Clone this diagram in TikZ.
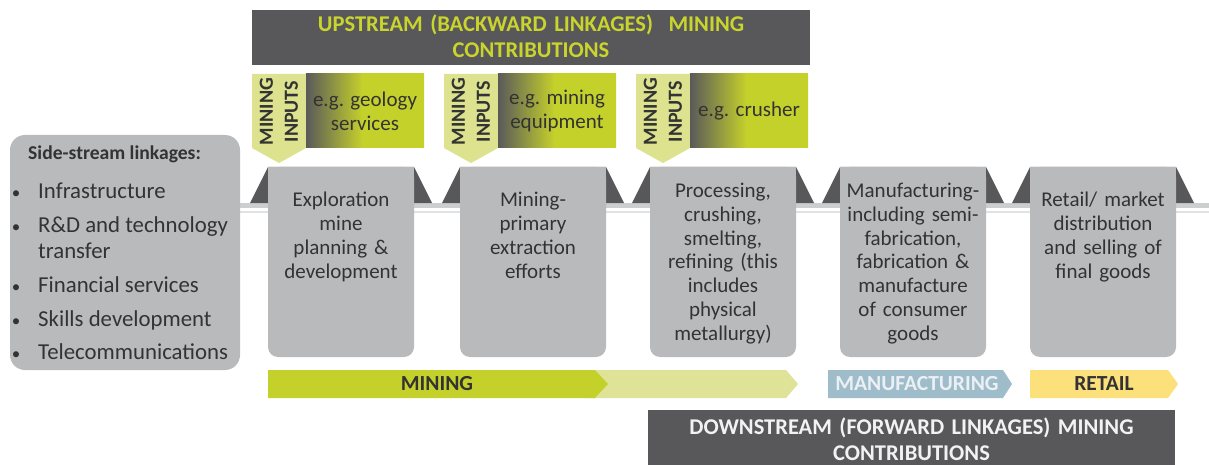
\documentclass[tikz,border=0pt]{standalone}
\usepackage{fontspec}
\setmainfont{Carlito}

\definecolor{barDark}{HTML}{58585A}
\definecolor{limeText}{HTML}{C9D42C}
\definecolor{lime}{HTML}{C5D12B}
\definecolor{limePale}{HTML}{DEE398}
\definecolor{tabFill}{HTML}{DCE28E}
\definecolor{inputDark}{HTML}{5A5A5A}
\definecolor{boxFill}{HTML}{B9BABC}
\definecolor{trapFill}{HTML}{58585A}
\definecolor{trackGray}{HTML}{CDCED0}
\definecolor{textDark}{HTML}{333333}
\definecolor{manuBlue}{HTML}{9FBCCB}
\definecolor{manuText}{HTML}{EAF0F3}
\definecolor{retailYellow}{HTML}{FBE07C}
\definecolor{lightText}{HTML}{F2F2F2}

% dark-to-lime fill of the input boxes
\pgfdeclarehorizontalshading{inputshade}{100bp}{color(0bp)=(inputDark); color(25bp)=(inputDark); color(49bp)=(lime); color(100bp)=(lime)}

\tikzset{
  darkbar/.style={rectangle, fill=barDark, inner sep=0pt},
  bartext/.style={anchor=base, text width=520pt, align=center, inner sep=0pt, font=\bfseries\fontsize{22.5}{26}\selectfont},
  stagebox/.style={rectangle, rounded corners=10pt, fill=boxFill, minimum width=146pt, minimum height=190pt, inner sep=0pt},
  stagetext/.style={anchor=base, text width=146pt, align=center, inner sep=0pt, text=textDark, font=\fontsize{21}{23.8}\selectfont},
  sidebox/.style={rectangle, rounded corners=15pt, fill=boxFill, minimum width=230pt, minimum height=235pt, inner sep=0pt},
  sidehead/.style={anchor=base west, inner sep=0pt, text=textDark, font=\bfseries\fontsize{19.6}{22}\selectfont},
  sideitem/.style={anchor=base west, inner sep=0pt, text=textDark, font=\fontsize{22.8}{27}\selectfont},
  bulletmark/.style={anchor=base, inner sep=0pt, text=textDark, font=\fontsize{17}{20}\selectfont},
  tabtext/.style={rotate=90, align=center, inner sep=0pt, text=textDark, font=\bfseries\fontsize{20}{25}\selectfont},
  inputbox/.style={rectangle, shading=inputshade, minimum width=118pt, minimum height=74pt, inner sep=0pt, align=center, text=textDark, font=\fontsize{21}{24}\selectfont},
  flowlabel/.style={inner sep=0pt, font=\bfseries\fontsize{21.5}{24}\selectfont},
}

% one "mining inputs" group: tab with pointer plus shaded example box
\newcommand\inputgroup[3]{%
  \fill[tabFill] (#2,74) -- (#2+54,74) -- (#2+54,148) -- (#2+27,163) -- (#2,148) -- cycle;
  \node[tabtext] (#1-tab) at (#2+27,111.5) {MINING\\INPUTS};
  \node[inputbox] (#1-box) at (#2+113,111) {#3};
}

% one value-chain stage: dark shoulders, box with square top, text
\newcommand\stage[4]{%
  \fill[trapFill] (#2-18,203) -- (#2,167) -- (#2+146,167) -- (#2+164,203) -- cycle;
  \node[stagebox] (#1) at (#2+73,262) {};
  \fill[boxFill] (#1.north west) rectangle (#1.east);
  \node[stagetext] (#1-text) at (#2+73,#3) {#4};
}

\begin{document}
\begin{tikzpicture}[x=1pt,y=-1pt]
\useasboundingbox[fill=white] (0,0) rectangle (1209,465);

% upstream header
\node[darkbar, minimum width=558pt, minimum height=55pt] (upstream) at (531,37.5) {};
\node[bartext, text=limeText] (upstream-text) at (531,32) {UPSTREAM (BACKWARD LINKAGES)\hspace{0.35em} MINING\\CONTRIBUTIONS};

% mining inputs
\inputgroup{inA}{252}{e.g. geology\\services}
\inputgroup{inB}{444}{e.g. mining\\equipment}
\inputgroup{inC}{636}{e.g. crusher}

% track
\fill[trackGray] (240,203) rectangle (1209,208);
\fill[trackGray!60] (240,211) rectangle (1209,213);

% stages
\stage{explore}{268}{207}{Exploration\\mine\\planning \&\\development}
\stage{extract}{460}{207}{Mining-\\primary\\extraction\\efforts}
\stage{process}{650}{197.5}{Processing,\\crushing,\\smelting,\\refining (this\\includes\\physical\\metallurgy)}
\stage{manufacture}{840}{197.5}{Manufacturing-\\including semi-\\fabrication,\\fabrication \&\\manufacture\\of consumer\\goods}
\stage{retail}{1030}{207}{Retail/ market\\distribution\\and selling of\\final goods}

% side-stream box
\node[sidebox] (side) at (125,252.5) {};
\node[sidehead] (side-head) at (28,160) {Side-stream linkages:};
\node[sideitem] (s1) at (38,198) {Infrastructure};
\node[sideitem] (s2) at (38,232) {R\&D and technology};
\node[sideitem] (s2b) at (38,258) {transfer};
\node[sideitem] (s3) at (38,292) {Financial services};
\node[sideitem] (s4) at (38,326) {Skills development};
\node[sideitem] (s5) at (38,359) {Telecommunications};
\foreach \y/\n in {198/1,232/2,292/3,326/4,359/5}
  \node[bulletmark] (b\n) at (16,\y) {•};

% sector arrows
\fill[limePale] (590,370) -- (786,370) -- (798,384) -- (786,398) -- (590,398) -- cycle;
\fill[lime] (268,370) -- (595,370) -- (608,384) -- (595,398) -- (268,398) -- cycle;
\node[flowlabel, text=textDark] (mining) at (437,384) {MINING};
\fill[manuBlue] (828,370) -- (1003,370) -- (1012,384) -- (1003,398) -- (828,398) -- cycle;
\node[flowlabel, text=manuText] (manufacturing) at (917,384) {MANUFACTURING};
\fill[retailYellow] (1030,370) -- (1168,370) -- (1178,384) -- (1168,398) -- (1030,398) -- cycle;
\node[flowlabel, text=textDark] (retail-label) at (1104,384) {RETAIL};

% downstream footer
\node[darkbar, minimum width=527pt, minimum height=55pt] (downstream) at (911.5,437.5) {};
\node[bartext, text=lightText] (downstream-text) at (911.5,434) {DOWNSTREAM (FORWARD LINKAGES) MINING\\CONTRIBUTIONS};
\end{tikzpicture}
\end{document}
